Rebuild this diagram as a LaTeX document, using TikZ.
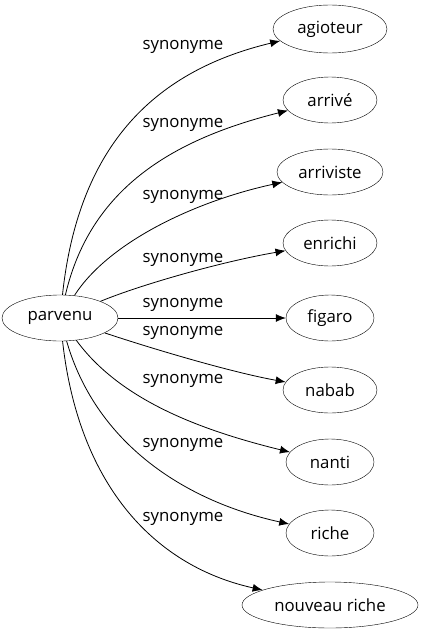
\documentclass[tikz,border=0pt]{standalone}
\usepackage{fontspec}
\setmainfont{Open Sans}
\usetikzlibrary{shapes.geometric,arrows.meta}
\begin{document}
\begin{tikzpicture}[x=1pt,y=-1pt,
  nd/.style={draw,ellipse,inner sep=0pt,font=\fontsize{16.8}{18}\selectfont},
  lbl/.style={font=\fontsize{16.8}{18}\selectfont,inner sep=0pt},
  edge/.style={draw,line width=0.8pt,-{Latex[length=10pt,width=8pt]}}]
\useasboundingbox (0,0) rectangle (422,635);
\node[nd,minimum width=116pt,minimum height=46pt] (p) at (60,318) {parvenu};
\node[nd,minimum width=114pt,minimum height=48pt] (a) at (330,29) {agioteur};
\node[nd,minimum width=94pt,minimum height=46pt] (b) at (330,100) {arrivé};
\node[nd,minimum width=106pt,minimum height=46pt] (c) at (330,172) {arriviste};
\node[nd,minimum width=94pt,minimum height=46pt] (d) at (330,243) {enrichi};
\node[nd,minimum width=88pt,minimum height=46pt] (e) at (330,318) {figaro};
\node[nd,minimum width=94pt,minimum height=46pt] (f) at (330,390) {nabab};
\node[nd,minimum width=88pt,minimum height=46pt] (g) at (330,462) {nanti};
\node[nd,minimum width=88pt,minimum height=46pt] (h) at (330,533) {riche};
\node[nd,minimum width=176pt,minimum height=46pt] (i) at (330,605) {nouveau riche};
\node[lbl] (la) at (183,47) {synonyme};
\node[lbl] (lb) at (183,125) {synonyme};
\node[lbl] (lc) at (183,197) {synonyme};
\node[lbl] (ld) at (183,260) {synonyme};
\node[lbl] (le) at (183,305) {synonyme};
\node[lbl] (lf) at (183,333) {synonyme};
\node[lbl] (lg) at (183,381) {synonyme};
\node[lbl] (lh) at (183,445) {synonyme};
\node[lbl] (li) at (183,519) {synonyme};
\path[edge] (p) .. controls (78,150) and (150,72) .. (a);
\path[edge] (p) .. controls (90,190) and (170,140) .. (b);
\path[edge] (p) .. controls (110,240) and (200,200) .. (c);
\path[edge] (p) .. controls (140,285) and (220,262) .. (d);
\path[edge] (p) -- (e);
\path[edge] (p) .. controls (150,348) and (230,372) .. (f);
\path[edge] (p) .. controls (120,400) and (200,430) .. (g);
\path[edge] (p) .. controls (95,440) and (180,500) .. (h);
\path[edge] (p) .. controls (78,480) and (150,565) .. (i);
\end{tikzpicture}
\end{document}
